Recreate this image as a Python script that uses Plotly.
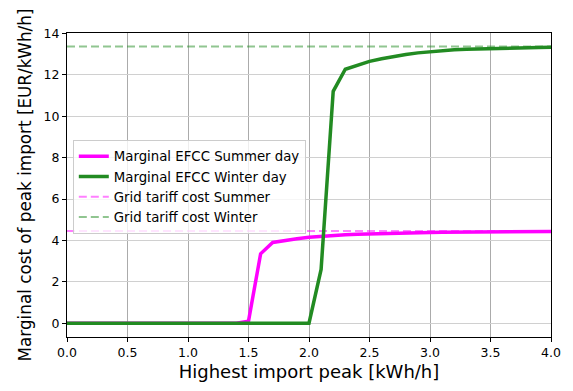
import plotly.graph_objects as go

x_peak = [round(0.1 * i, 1) for i in range(41)]
summer_efcc = [0.0] * 15 + [0.1, 3.35, 3.9, 4.0, 4.08, 4.15, 4.2, 4.24, 4.27, 4.3, 4.32,
                            4.34, 4.35, 4.36, 4.37, 4.38, 4.39, 4.39, 4.4, 4.4, 4.41,
                            4.41, 4.42, 4.42, 4.43, 4.43]
winter_efcc = [0.0] * 21 + [2.6, 11.2, 12.27, 12.48, 12.65, 12.78, 12.9, 12.98, 13.06, 13.12,
                            13.17, 13.21, 13.24, 13.26, 13.28, 13.29, 13.3, 13.31, 13.32, 13.33]
tariff_x = [0.0, 4.0]
tariff_summer = [4.45, 4.45]
tariff_winter = [13.37, 13.37]

x_ticks = [0.0, 0.5, 1.0, 1.5, 2.0, 2.5, 3.0, 3.5, 4.0]
y_ticks = [0, 2, 4, 6, 8, 10, 12, 14]

FONT = "DejaVu Sans"

fig = go.Figure()
fig.add_trace(go.Scatter(x=tariff_x, y=tariff_summer, mode="lines",
                         name="Grid tariff cost Summer", legendrank=3,
                         line=dict(color="rgba(255,0,255,0.5)", width=2, dash="8px,4px")))
fig.add_trace(go.Scatter(x=tariff_x, y=tariff_winter, mode="lines",
                         name="Grid tariff cost Winter", legendrank=4,
                         line=dict(color="rgba(34,139,34,0.5)", width=2, dash="8px,4px")))
fig.add_trace(go.Scatter(x=x_peak, y=summer_efcc, mode="lines",
                         name="Marginal EFCC Summer day", legendrank=1,
                         line=dict(color="#ff00ff", width=3.5)))
fig.add_trace(go.Scatter(x=x_peak, y=winter_efcc, mode="lines",
                         name="Marginal EFCC Winter day", legendrank=2,
                         line=dict(color="#228b22", width=3.5)))

fig.update_layout(
    width=573, height=391,
    margin=dict(l=67, r=17, t=33, b=53),
    paper_bgcolor="white", plot_bgcolor="white",
    font=dict(family=FONT, color="black", size=12),
    legend=dict(x=0.012, y=0.648, xanchor="left", yanchor="top",
                bgcolor="rgba(255,255,255,0.8)", bordercolor="#cccccc", borderwidth=1,
                font=dict(size=13.3, family=FONT), tracegroupgap=0, itemwidth=30),
    xaxis=dict(range=[0, 4], tickvals=x_ticks, ticktext=[f"{v:.1f}" for v in x_ticks],
               showgrid=True, gridcolor="#ababab", gridwidth=1,
               showline=True, linecolor="black", linewidth=1, mirror=True,
               ticks="outside", ticklen=4, tickcolor="black", zeroline=False,
               tickfont=dict(size=12.5),
               title=dict(text="Highest import peak [kWh/h]", font=dict(size=18), standoff=6)),
    yaxis=dict(range=[-0.667, 14.02], tickvals=y_ticks, ticktext=[str(v) for v in y_ticks],
               showgrid=True, gridcolor="#d0d0d0", gridwidth=1,
               showline=True, linecolor="black", linewidth=1, mirror=True,
               ticks="outside", ticklen=4, tickcolor="black", zeroline=False,
               tickfont=dict(size=12.5),
               title=dict(text="Marginal cost of peak import [EUR/kWh/h]", font=dict(size=16.8), standoff=7)),
)

fig.write_html("out.html")
